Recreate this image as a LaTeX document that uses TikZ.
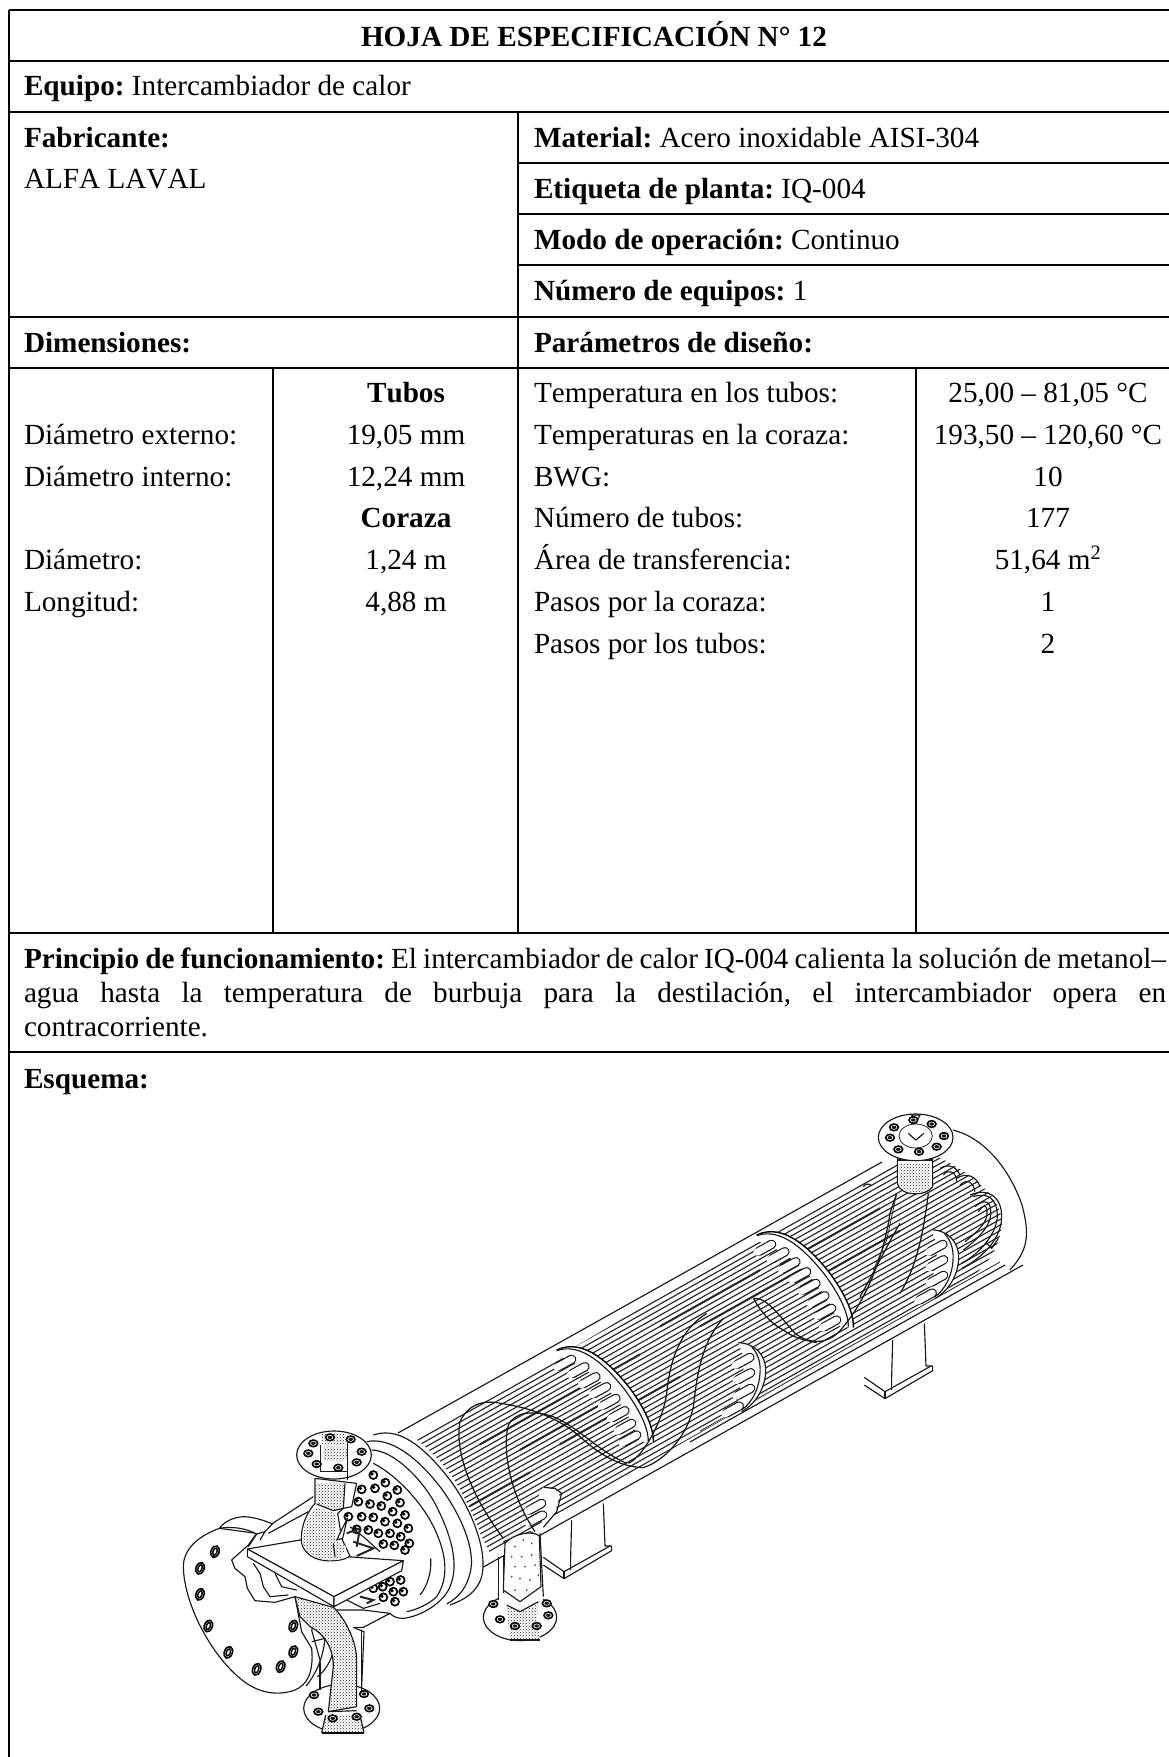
\documentclass[tikz,border=0pt]{standalone}
\usepackage{fontspec}
\setmainfont[Kerning=Off]{Liberation Serif}
\usetikzlibrary{patterns}
\tikzset{
 hrule/.style={line width=2pt,black},
 vrule/.style={line width=1.6pt,black},
 txt/.style={anchor=base west,inner sep=0pt,outer sep=0pt,font=\fontsize{29.2}{32}\selectfont},
 ctr/.style={anchor=base,inner sep=0pt,outer sep=0pt,font=\fontsize{29.2}{32}\selectfont},
 ln/.style={line width=1.15pt,black!90,line join=round},
 tn/.style={line width=0.8pt,black!85},
 heavy/.style={line width=1.4pt,black},
 tubeln/.style={line width=1.15pt,black!85},
 dark/.style={line width=2pt,black!85},
 dotfill/.style={preaction={fill=white},pattern=crosshatch dots,pattern color=black!85},
 stubo/.style={line width=9.4pt,black!90,line cap=round},
 stubi/.style={line width=7pt,white,line cap=round},
 boltln/.style={line width=1.6pt,black},
 wave/.style={line width=1.25pt,black!90},
}
\newcommand\hxstub[2]{\draw[stubo] (#1,#2) -- ++(-38,21); \draw[stubi] (#1,#2) -- ++(-44,24);}
\newcommand\hxbolt[2]{%
 \draw[boltln,fill=white,rotate around={-20:(#1,#2)}] (#1,#2) ellipse [x radius=12,y radius=18];
 \draw[line width=1.5pt,black,rotate around={-20:(#1,#2)}] (#1,#2) ellipse [x radius=6,y radius=11];}
\newcommand\hxflbolt[2]{%
 \draw[boltln,fill=white] (#1,#2) ellipse [x radius=13,y radius=10];
 \fill[black!90] (#1,#2) ellipse [x radius=7,y radius=5];}
\newcommand\hxhole[2]{%
 \draw[line width=1.7pt,black,fill=white] (#1,#2) circle [radius=12];
 \fill[black] (#1-4,#2-3) circle [radius=5.5];}
\newcommand\hxbaffle{%
 \fill[white] (350,150) .. controls (430,112) and (510,190) .. (570,265) .. controls (610,320) and (642,380) .. (640,428) -- (600,425) .. controls (575,345) and (490,215) .. (360,170) -- cycle;
 \hxstub{395}{178}\hxstub{435}{200}\hxstub{468}{230}\hxstub{500}{260}\hxstub{528}{295}\hxstub{555}{332}\hxstub{575}{370}\hxstub{590}{405}
 \draw[heavy] (350,150) .. controls (430,112) and (510,190) .. (570,265) .. controls (610,320) and (642,380) .. (640,428);
 \draw[ln] (350,152) .. controls (425,125) and (500,200) .. (555,270) .. controls (595,325) and (625,380) .. (625,425);}
\newcommand\hxsmallbaffle{%
 \fill[white] (895,128) .. controls (945,130) and (975,165) .. (975,210) .. controls (975,260) and (950,310) .. (905,335) -- (895,300) -- (915,180) -- cycle;
 \hxstub{930}{172}\hxstub{932}{218}\hxstub{932}{265}\hxstub{898}{318}
 \draw[ln] (895,128) .. controls (945,130) and (977,165) .. (977,210) .. controls (977,260) and (950,310) .. (905,335);
 \draw[ln] (935,140) .. controls (958,165) and (962,195) .. (960,220) .. controls (958,260) and (940,305) .. (905,330);}
\newcommand\hxsaddle{%
 \fill[white] (310,770) -- (395,660) -- (490,610) -- (495,740) -- (515,750) -- (375,835) -- (310,795) -- cycle;
 \draw[ln] (395,660) -- (392,770) -- (392,810);
 \draw[ln] (490,610) -- (495,738) -- (515,738) -- (515,752) -- (372,836) -- (310,795);
 \draw[ln] (310,772) -- (372,815) -- (510,738);
 \draw[ln] (372,815) -- (372,836);}
\begin{document}
\frenchspacing
\begin{tikzpicture}[x=1pt,y=-1pt]
\useasboundingbox (0,0) rectangle (1169,1757);
\fill[white] (0,0) rectangle (1169,1757);
% ---- table
\draw[vrule] (9,10) -- (9,1757);
\foreach \yy in {10,60.5,112,317,368,933,1052} \draw[hrule] (9,\yy) -- (1169,\yy);
\foreach \yy in {163,214,265} \draw[hrule] (518,\yy) -- (1169,\yy);
\draw[vrule] (518,112) -- (518,933);
\draw[vrule] (273,368) -- (273,933);
\draw[vrule] (916,368) -- (916,933);
% ---- texts
\node[ctr] (title) at (594,46) {\textbf{HOJA DE ESPECIFICACIÓN N° 12}};
\node[txt] (equipo) at (24,95.5) {\textbf{Equipo:} Intercambiador de calor};
\node[txt] (fab) at (24,147) {\textbf{Fabricante:}};
\node[txt] (alfa) at (24,188) {ALFA LAVAL};
\node[txt] (mat) at (534,147) {\textbf{Material:} Acero inoxidable AISI-304};
\node[txt] (eti) at (534,198.5) {\textbf{Etiqueta de planta:} IQ-004};
\node[txt] (modo) at (534,249.5) {\textbf{Modo de operación:} Continuo};
\node[txt] (num) at (534,300.5) {\textbf{Número de equipos:} 1};
\node[txt] (dim) at (24,352) {\textbf{Dimensiones:}};
\node[txt] (par) at (534,352) {\textbf{Parámetros de diseño:}};
\node[ctr] (c2a) at (406,402.5) {\textbf{Tubos}};
\node[txt] (c1b) at (24,444) {Diámetro externo:};
\node[ctr] (c2b) at (406,444) {19,05 mm};
\node[txt] (c1c) at (24,486) {Diámetro interno:};
\node[ctr] (c2c) at (406,486) {12,24 mm};
\node[ctr] (c2d) at (406,527.5) {\textbf{Coraza}};
\node[txt] (c1e) at (24,569) {Diámetro:};
\node[ctr] (c2e) at (406,569) {1,24 m};
\node[txt] (c1f) at (24,611) {Longitud:};
\node[ctr] (c2f) at (406,611) {4,88 m};
\node[txt] (c3a) at (534,402.5) {Temperatura en los tubos:};
\node[ctr] (c4a) at (1048,402.5) {25,00 – 81,05 °C};
\node[txt] (c3b) at (534,444) {Temperaturas en la coraza:};
\node[ctr] (c4b) at (1048,444) {193,50 – 120,60 °C};
\node[txt] (c3c) at (534,486) {BWG:};
\node[ctr] (c4c) at (1048,486) {10};
\node[txt] (c3d) at (534,527.5) {Número de tubos:};
\node[ctr] (c4d) at (1048,527.5) {177};
\node[txt] (c3e) at (534,569) {Área de transferencia:};
\node[ctr] (c4e) at (1048,569) {51,64 m\textsuperscript{2}};
\node[txt] (c3f) at (534,611) {Pasos por la coraza:};
\node[ctr] (c4f) at (1048,611) {1};
\node[txt] (c3g) at (534,653) {Pasos por los tubos:};
\node[ctr] (c4g) at (1048,653) {2};
\node[txt] (p1) at (24,968) {\hbox to 1142pt{\spaceskip=0.13em plus 1fil\relax\textbf{Principio de funcionamiento:} El intercambiador de calor IQ-004 calienta la solución de metanol–}};
\node[txt] (p2) at (24,1002) {\hbox to 1142pt{\spaceskip=0.2em plus 1fil\relax agua hasta la temperatura de burbuja para la destilación, el intercambiador opera en}};
\node[txt] (p3) at (24,1036) {contracorriente.};
\node[txt] (esq) at (24,1088) {\textbf{Esquema:}};
% ---- saddles
\begin{scope}[shift={(440,1300)},scale=1/3]
 \hxsaddle
\end{scope}
\begin{scope}[shift={(761,1120)},scale=1/3]
 \hxsaddle
\end{scope}
% ---- shell
\fill[white] (398,1433) -- (882,1162) -- (952,1130) .. controls (1000,1150) and (1030,1200) .. (1025,1240) -- (1023,1265) -- (483,1565) -- cycle;
\draw[ln] (398,1433) -- (882,1162);
\draw[ln] (478,1570) -- (1023,1265);
\draw[ln] (953,1130) .. controls (985,1138) and (1010,1170) .. (1022,1205) .. controls (1030,1235) and (1028,1250) .. (1010,1270);
% ---- tubes
\begin{scope}
 \clip (417,1440) .. controls (440,1458) and (452,1475) .. (462,1493) .. controls (470,1510) and (476,1520) .. (480,1533) -- (490,1553) -- (967,1280) .. controls (985,1268) and (1000,1250) .. (1002,1223) .. controls (1002,1200) and (975,1175) .. (940,1158) -- (900,1155) -- cycle;
 \foreach \t in {0,...,28} {
  \draw[tubeln] (400,{1444.5+5.6*\t}) -- (1040,{1085+5.6*\t});
 }
 \foreach \xa/\t/\xb in {480/8/640,520/13/620,660/5/760,700/9/800,470/18/530,780/6/880,800/12/900,560/16/680}{
  \draw[dark] (\xa,{1444.5+5.6*\t-0.562*(\xa-400)}) -- (\xb,{1444.5+5.6*\t-0.562*(\xb-400)});
 }
\end{scope}
% ---- inner shell lines
\draw[ln] (690,1442) -- (1005,1265);
\draw[tn] (700,1431) -- (1000,1262);
% ---- U bends
\begin{scope}[shift={(740,1100)},scale=1/3]
 \draw[ln] (690,285) .. controls (745,262) and (785,290) .. (785,350) .. controls (785,410) and (735,470) .. (665,505);
 \draw[ln] (700,290) .. controls (745,275) and (772,300) .. (772,345) .. controls (772,400) and (720,460) .. (665,490);
 \draw[ln] (705,320) .. controls (740,290) and (755,310) .. (752,345) .. controls (750,380) and (710,420) .. (670,450);
 \draw[ln] (715,335) .. controls (735,305) and (745,320) .. (740,350) .. controls (735,375) and (700,405) .. (675,425);
 \draw[ln] (600,205) .. controls (625,190) and (650,200) .. (660,225);
 \draw[ln] (610,225) .. controls (625,205) and (650,215) .. (650,245);
 \draw[ln] (650,235) .. controls (680,215) and (710,230) .. (720,260);
 \draw[ln] (660,255) .. controls (680,235) and (700,245) .. (705,275);
 \draw[ln] (370,260) .. controls (375,250) and (390,250) .. (395,258);
 \draw[ln] (740,430) -- (755,445) -- (775,415);
\end{scope}
% ---- baffles
\begin{scope}[shift={(440,1300)},scale=1/3]
 \hxbaffle
 \hxsmallbaffle
\end{scope}
\begin{scope}[shift={(640,1185)},scale=1/3]
 \hxbaffle
\end{scope}
\begin{scope}[shift={(633,1187)},scale=1/3]
 \hxsmallbaffle
\end{scope}
% small baffle by the middle nozzle
\begin{scope}[shift={(440,1300)},scale=1/3]
 \fill[white] (310,560) -- (360,575) -- (345,640) -- (310,680) -- (290,600) -- cycle;
 \hxstub{305}{610}\hxstub{308}{645}
 \draw[ln] (310,562) -- (345,565) -- (365,580) -- (350,635) -- (310,682);
 % waves first bay
 \draw[wave] (60,365) .. controls (80,320) and (120,300) .. (170,308) .. controls (240,318) and (340,340) .. (420,410) .. controls (470,455) and (530,500) .. (610,503) .. controls (680,480) and (745,400) .. (760,320) .. controls (770,240) and (780,130) .. (850,55);
 \draw[wave] (205,375) .. controls (225,335) and (280,330) .. (340,350) .. controls (420,385) and (470,450) .. (560,490);
 \draw[wave] (565,490) .. controls (610,470) and (670,360) .. (680,280) .. controls (690,180) and (720,90) .. (800,40);
 \draw[wave] (60,365) .. controls (45,440) and (80,570) .. (190,715);
 \draw[wave] (205,375) .. controls (185,460) and (215,590) .. (285,695);
\end{scope}
\begin{scope}[shift={(740,1100)},scale=1/3]
 \draw[wave] (40,595) .. controls (80,590) and (120,650) .. (165,700) .. controls (210,735) and (270,735) .. (310,680) .. controls (370,610) and (430,480) .. (450,340) -- (470,280);
 \draw[wave] (40,595) .. controls (60,630) and (90,670) .. (130,690) .. controls (170,720) and (200,720) .. (230,728);
 \draw[wave] (360,590) .. controls (400,520) and (450,420) .. (480,370);
 \draw[wave] (480,580) .. controls (530,500) and (550,400) .. (565,280);
 \draw[tn] (470,280) -- (440,420) -- (400,510);
\end{scope}
% ---- rear nozzle
\begin{scope}[shift={(740,1100)},scale=1/3]
 \draw[ln,fill=white] (472,150) -- (472,250) .. controls (480,290) and (560,290) .. (578,260) -- (578,150) -- cycle;
 \path[dotfill] (478,190) -- (572,190) -- (570,262) .. controls (550,285) and (490,280) .. (478,255) -- cycle;
 \draw[ln] (472,180) -- (578,180);
 \draw[ln,fill=white] (527,112) ellipse [x radius=112,y radius=70];
 \draw[tn] (527,108) ellipse [x radius=50,y radius=36];
 \draw[ln] (505,100) -- (527,120) -- (552,100);
 \draw[ln] (515,45) -- (540,45) -- (527,70) -- cycle;
 \foreach \bx/\by in {462/82,450/113,475/148,537/155,590/140,612/108,575/72,520/60}{
  \hxflbolt{\bx}{\by}
 }
\end{scope}
% ---- middle nozzle
\begin{scope}[shift={(440,1300)},scale=1/3]
 \draw[ln,fill=white] (240,952) ellipse [x radius=110,y radius=70];
 \fill[white] (175,780) rectangle (310,905);
 \draw[ln] (175,770) -- (175,900);
 \draw[ln] (190,765) -- (190,880);
 \draw[ln] (300,700) -- (310,890);
 \draw[ln] (190,725) -- (270,695) -- (300,710);
 \draw[ln,fill=white] (195,730) .. controls (220,700) and (280,690) .. (298,708) -- (303,860) -- (240,905) -- (190,870) -- cycle;
 \foreach \dx/\dy in {225/740,250/720,275/730,215/770,245/770,275/765,225/800,255/800,285/795,215/830,240/835,270/840,295/825,225/870,260/870}{
  \fill[black!70] (\dx,\dy) circle [radius=3];
 }
 \path[dotfill] (200,915) -- (240,935) -- (295,905) -- (290,960) -- (300,1020) -- (210,1020) -- cycle;
 \draw[ln] (200,915) -- (240,935) -- (295,905);
 \draw[ln] (210,1020) -- (300,1020);
 \foreach \bx/\by in {160/912,320/910,180/958,325/946,225/978,290/978}{
  \hxflbolt{\bx}{\by}
 }
\end{scope}
% ---- front end
\begin{scope}[shift={(160,1400)},scale=1/3]
 \fill[white] (640,105) .. controls (700,85) and (770,110) .. (870,240) .. controls (930,320) and (985,450) .. (965,530) .. controls (950,590) and (900,610) .. (830,640) .. controls (780,665) and (720,660) .. (690,640) -- (610,680) -- (540,640) -- (500,350) -- cycle;
 \draw[ln] (640,105) .. controls (700,85) and (770,110) .. (870,240) .. controls (930,320) and (985,450) .. (965,530) .. controls (950,580) and (910,600) .. (870,615);
 \draw[ln] (620,125) .. controls (690,110) and (770,170) .. (840,260) .. controls (900,340) and (950,450) .. (930,520) .. controls (920,560) and (900,590) .. (860,612);
 \draw[ln] (635,150) .. controls (700,150) and (790,240) .. (830,320) .. controls (870,400) and (900,490) .. (870,560) .. controls (850,610) and (780,650) .. (730,655) .. controls (710,655) and (700,650) .. (690,640);
 \draw[ln] (640,190) .. controls (700,220) and (770,290) .. (810,360) .. controls (860,450) and (870,530) .. (830,590) .. controls (810,610) and (770,630) .. (740,635);
 \draw[ln] (812,475) .. controls (815,510) and (805,555) .. (780,585);
 % channel tube
 \draw[ln] (335,372) -- (460,290);
 \draw[ln] (325,400) -- (445,335);
 % tube holes upper
 \foreach \hxa/\hxb in {640/225,676/248,712/270,605/268,645/265,682/288,720/308,595/305,630/312,664/318,698/335,735/345,565/350,605/350,640/352,675/365,712/370,745/385,590/388,625/390,655/400,690/400,722/410,748/430,670/432,703/436,735/450}{
  \hxhole{\hxa}{\hxb}
 }
 % tube holes lower
 \foreach \hxa/\hxb in {690/545,722/540,730/575,700/575,668/560,640/565,670/592,705/605}{
  \hxhole{\hxa}{\hxb}
 }
 \draw[dark] (600,590) -- (640,600) -- (620,610);
 \draw[ln] (560,600) -- (610,625) -- (660,610);
 % channel body and lower nozzle
 \draw[ln,fill=white] (455,690) -- (480,640) -- (530,630) -- (610,630) -- (690,640) -- (610,682) -- (580,682) -- (612,695) -- (605,860) -- (600,900) -- (480,900) -- (480,780) -- cycle;
 % big flange
 \draw[ln,fill=white] (178,385) .. controls (110,410) and (70,450) .. (70,500) .. controls (72,610) and (150,760) .. (240,835) .. controls (290,878) and (350,890) .. (405,870) .. controls (440,855) and (462,820) .. (455,745) -- (425,695) -- (405,590) -- (345,607) -- (285,602) -- (262,565) -- (255,530) -- (225,505) -- (215,480) -- (265,435) -- (290,400) -- cycle;
 \foreach \bx/\by in {165/455,120/505,120/583,145/678,205/757,290/808,362/800,400/755,400/678}{
  \hxbolt{\bx}{\by}
 }
 \draw[ln,fill=white] (178,385) .. controls (195,362) and (225,350) .. (255,350) .. controls (285,352) and (315,362) .. (337,372) -- (315,395) -- (290,402) .. controls (260,385) and (215,378) .. (178,385) -- cycle;
 \draw[ln] (290,402) -- (265,440);
 \draw[ln] (315,395) -- (300,420);
 \draw[ln] (280,490) -- (300,520) -- (310,560) -- (330,590) -- (385,585);
 \draw[ln] (345,520) -- (365,560) -- (410,570);
 % arcs right of big flange
 \draw[ln] (455,725) -- (495,715) .. controls (490,770) and (470,820) .. (438,858);
 \draw[ln] (495,715) -- (525,740) .. controls (515,780) and (495,815) .. (472,830);
 % lower nozzle flange
 \draw[ln,fill=white] (545,925) ellipse [x radius=114,y radius=72];
 \foreach \bx/\by in {462/885,612/882,628/925,475/935}{
  \hxflbolt{\bx}{\by}
 }
 \draw[ln] (480,790) -- (480,870);
 \draw[ln] (605,690) -- (605,880);
 \draw[ln,dotfill] (405,590) -- (520,622) .. controls (560,660) and (590,730) .. (590,780) -- (590,920) -- (505,935) -- (520,800) .. controls (520,740) and (490,700) .. (450,680) -- (420,650) -- cycle;
 \draw[ln] (505,935) -- (590,932);
 \path[dotfill] (497,945) -- (600,945) -- (612,995) -- (485,998) -- cycle;
 \hxflbolt{518}{955}\hxflbolt{590}{950}
 \draw[line width=1.6pt] (485,999) -- (612,999);
 \draw[ln] (497,945) -- (485,999);
 \draw[ln] (600,945) -- (612,999);
 % partition plate
 \draw[ln,fill=white] (262,447) -- (420,420) -- (560,470) -- (730,482) -- (522,590) -- cycle;
 \draw[ln,fill=white] (262,447) -- (262,470) -- (522,620) -- (522,590) -- cycle;
 \draw[ln,fill=white] (522,590) -- (522,620) -- (725,512) -- (730,482) -- cycle;
 % top channel nozzle
 \draw[ln,fill=white] (465,235) -- (465,310) .. controls (430,350) and (420,400) .. (425,430) .. controls (435,470) and (480,490) .. (540,480) .. controls (552,478) and (562,474) .. (570,468) -- (545,415) -- (533,340) -- (550,325) -- (575,320) -- (590,250) -- cycle;
 \path[dotfill] (470,250) -- (555,250) -- (550,325) -- (520,332) -- (470,312) -- cycle;
 \path[dotfill] (470,325) -- (530,340) -- (525,420) -- (560,440) -- (540,478) .. controls (490,488) and (440,470) .. (428,430) .. controls (425,395) and (440,350) .. (470,325) -- cycle;
 \draw[ln] (470,312) -- (520,332) -- (550,325);
 \draw[ln] (555,250) -- (550,325);
 \draw[ln,fill=white] (530,420) -- (562,355) -- (548,415) -- cycle;
 \draw[ln] (520,430) -- (525,470);
 \draw[dark] (560,400) -- (600,385) -- (590,440);
 \draw[dark] (580,425) -- (640,445) -- (590,468);
 \draw[ln] (570,380) -- (610,410) -- (660,455);
 \draw[ln,fill=white] (522,165) ellipse [x radius=112,y radius=72];
 \path[dotfill] (488,140) -- (558,140) -- (566,172) -- (540,185) -- (490,180) -- cycle;
 \draw[ln] (482,135) -- (482,215);
 \draw[ln] (562,130) -- (562,215);
 \draw[ln] (482,215) -- (562,215) -- (562,240);
 \path[dotfill] (485,100) -- (555,100) -- (558,135) -- (485,135) -- cycle;
 \foreach \bx/\by in {460/130,510/112,572/118,605/155,590/187,535/203,470/192,445/160}{
  \hxflbolt{\bx}{\by}
 }
\end{scope}
\end{tikzpicture}
\end{document}
